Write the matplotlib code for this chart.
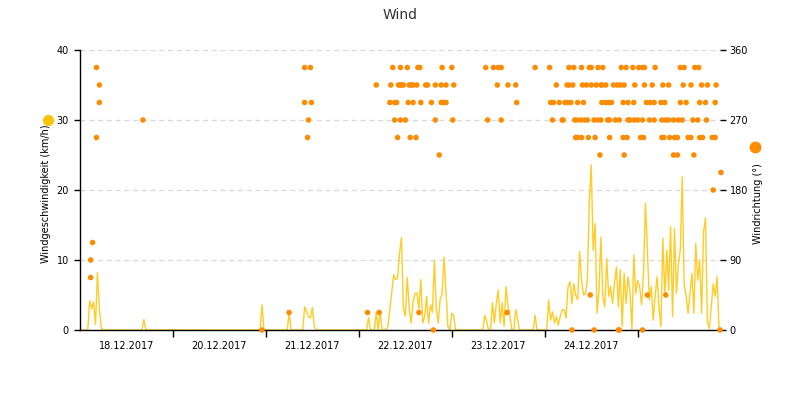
import matplotlib.pyplot as plt
import numpy as np
from matplotlib.lines import Line2D

# time axis in 15-minute slots (96 per day), speed sampled every 30 minutes
slots_per_day = 96
day_labels = ["18.12.2017", "20.12.2017", "21.12.2017",
              "22.12.2017", "23.12.2017", "24.12.2017"]

# wind speed (km/h), pieces of the 30-minute series: start index -> values
speed_pieces = {
    4: [0, 4.2, 3.0, 4.0, 0.8, 8.2, 3.0, 0.3],
    33: [1.5],
    94: [3.6],
    108: [2.5],
    116: [3.3, 2.7, 1.8, 1.8, 3.2, 0.5],
    149: [1.8, 0, 0, 0, 2.5, 0, 2.6],
    159: [0.5, 3.0, 5.5, 7.9, 7.2, 7.4, 10.9, 13.2, 3.0, 2.0, 7.5, 3.0, 1.0,
          4.0, 5.2, 5.3, 3.0, 7.2, 1.0, 2.0, 4.8, 1.0, 3.6, 2.5, 9.9, 3.0,
          1.0, 4.4, 5.2, 10.4, 5.5, 0.5, 0, 2.4, 2.0],
    209: [2.1, 1.2, 0, 0, 3.9, 1.0, 3.8, 5.7, 1.0, 3.9, 0.5, 6.2, 3.5, 2.0,
          0, 0, 2.9, 1.5],
    235: [2.1],
    242: [4.3, 1.4, 2.6, 1.0, 1.9, 0.7, 1.9, 2.9, 2.9, 1.7, 6.2, 6.9, 3.8,
          6.6, 5.0, 4.3, 11.2, 7.1, 5.0, 5.2, 7.1,
          18.3, 23.6, 11.4, 15.2, 2.4, 5.5, 13.3, 4.8, 3.3, 10.2, 4.8, 6.2,
          3.8, 6.6, 9.0, 3.3, 8.6, 0.5, 8.1, 3.8, 7.6, 5.5, 0, 10.7, 5.2,
          7.1, 6.2, 3.6, 8.1, 18.1, 11.4, 4.3, 6.2, 1.4, 4.8, 7.6, 3.3, 0.5,
          13.1, 4.8, 11.4, 5.7, 14.8, 1.9, 14.5, 5.2, 9.5, 11.4, 21.9, 6.6,
          4.8, 2.4, 5.2, 8.1, 2.4, 12.4, 7.1, 10.0, 2.4, 14.0, 16.0, 1.2,
          0.2, 3.3, 6.6, 4.8, 7.6, 0],
}
n_speed = 331

# wind direction (degrees): slot positions for each direction class
dir_0 = [188, 365, 508, 531, 556, 557, 581, 661]
dir_22 = [216, 297, 309, 350, 441]
dir_45 = [527, 586, 605]
dir_67 = [11]
dir_90 = [11]
dir_112 = [13]
dir_180 = [654]
dir_202 = [662]
dir_225 = [371, 537, 562, 613, 617, 634]
dir_247 = [17, 235, 328, 341, 347, 512, 514, 518, 525, 532, 547, 561, 565,
           579, 582, 601, 603, 609, 614, 617, 628, 631, 640, 643, 653, 656]
dir_270 = [65, 236, 325, 331, 336, 367, 385, 421, 435, 488, 498, 499, 511,
           513, 517, 521, 524, 531, 535, 538, 545, 547, 553, 557, 566, 568,
           572, 576, 581, 588, 593, 601, 605, 608, 613, 618, 622, 633, 638,
           647]
dir_292 = [20, 232, 239, 320, 325, 327, 339, 344, 352, 363, 373, 375, 378,
           451, 486, 489, 495, 501, 503, 507, 514, 520, 539, 543, 546, 549,
           561, 566, 572, 585, 589, 593, 600, 604, 620, 626, 640, 646, 656]
dir_315 = [20, 306, 321, 329, 331, 332, 334, 340, 342, 344, 348, 357, 359,
           367, 373, 378, 386, 431, 442, 450, 492, 503, 505, 509, 519, 523,
           528, 533, 538, 539, 543, 551, 555, 558, 562, 573, 583, 591, 602,
           608, 623, 631, 642, 648, 657]
dir_337 = [17, 232, 238, 323, 331, 338, 349, 351, 374, 384, 419, 427, 432,
           435, 470, 485, 505, 510, 518, 526, 528, 535, 540, 559, 564, 571,
           577, 581, 583, 594, 620, 624, 635, 639]

dir_classes = {0: dir_0, 22.5: dir_22, 45: dir_45, 67.5: dir_67, 90: dir_90,
               112.5: dir_112, 180: dir_180, 202.5: dir_202, 225: dir_225,
               247.5: dir_247, 270: dir_270, 292.5: dir_292, 315: dir_315,
               337.5: dir_337}

speed = np.zeros(n_speed)
for start, vals in speed_pieces.items():
    speed[start:start + len(vals)] = vals
speed_x = np.arange(n_speed) * 2

dir_x = []
dir_y = []
for deg, xs in dir_classes.items():
    dir_x += xs
    dir_y += [deg] * len(xs)

yellow = "#FFC300"
orange = "#FF8C00"

fig = plt.figure(figsize=(8, 4), dpi=100)
ax = fig.add_axes([0.1, 0.175, 0.8, 0.7])
ax2 = ax.twinx()

ax.plot(speed_x, speed, color=yellow, lw=1.0, alpha=0.85, zorder=2)
ax2.scatter(dir_x, dir_y, s=16, color=orange, edgecolors="none", zorder=3,
            clip_on=False)

ax.set_xlim(0, 661)
ax.set_ylim(0, 40)
ax2.set_ylim(0, 360)

ax.set_yticks([0, 10, 20, 30, 40])
ax2.set_yticks([0, 90, 180, 270, 360])
ax.grid(axis="y", color="#d8d8d8", linestyle=(0, (4, 3)), lw=0.9)
ax.set_axisbelow(True)

day_edges = [slots_per_day * k for k in range(1, 7)]
day_centers = [slots_per_day * k + slots_per_day / 2 for k in range(6)]
ax.set_xticks(day_edges)
ax.set_xticklabels([])
ax.set_xticks(day_centers, minor=True)
ax.set_xticklabels(day_labels, minor=True)
ax.tick_params(axis="x", which="major", length=5, width=1, color="black")
ax.tick_params(axis="x", which="minor", length=0, pad=8, labelsize=7)
ax.tick_params(axis="y", length=4, width=1, pad=4, labelsize=7)
ax2.tick_params(axis="y", length=4, width=1, pad=3, labelsize=7)

for s in ["top", "right"]:
    ax.spines[s].set_visible(False)
for s in ["top", "right", "left", "bottom"]:
    ax2.spines[s].set_visible(False)
ax.spines["left"].set_linewidth(1)
ax.spines["bottom"].set_linewidth(1)

fig.text(0.5, 0.9625, "Wind", ha="center", va="center", fontsize=10,
         color="#333333")
fig.text(0.0575, 0.515, "Windgeschwindigkeit (km/h)", rotation=90,
         ha="center", va="center", fontsize=7)
fig.text(0.9475, 0.49, "Windrichtung (°)", rotation=90,
         ha="center", va="center", fontsize=7)
fig.add_artist(Line2D([0.06], [0.70], marker="o", markersize=7,
                      color=yellow, transform=fig.transFigure))
fig.add_artist(Line2D([0.944], [0.6325], marker="o", markersize=7.5,
                      color=orange, transform=fig.transFigure))

fig.savefig("out.png", dpi=100)
